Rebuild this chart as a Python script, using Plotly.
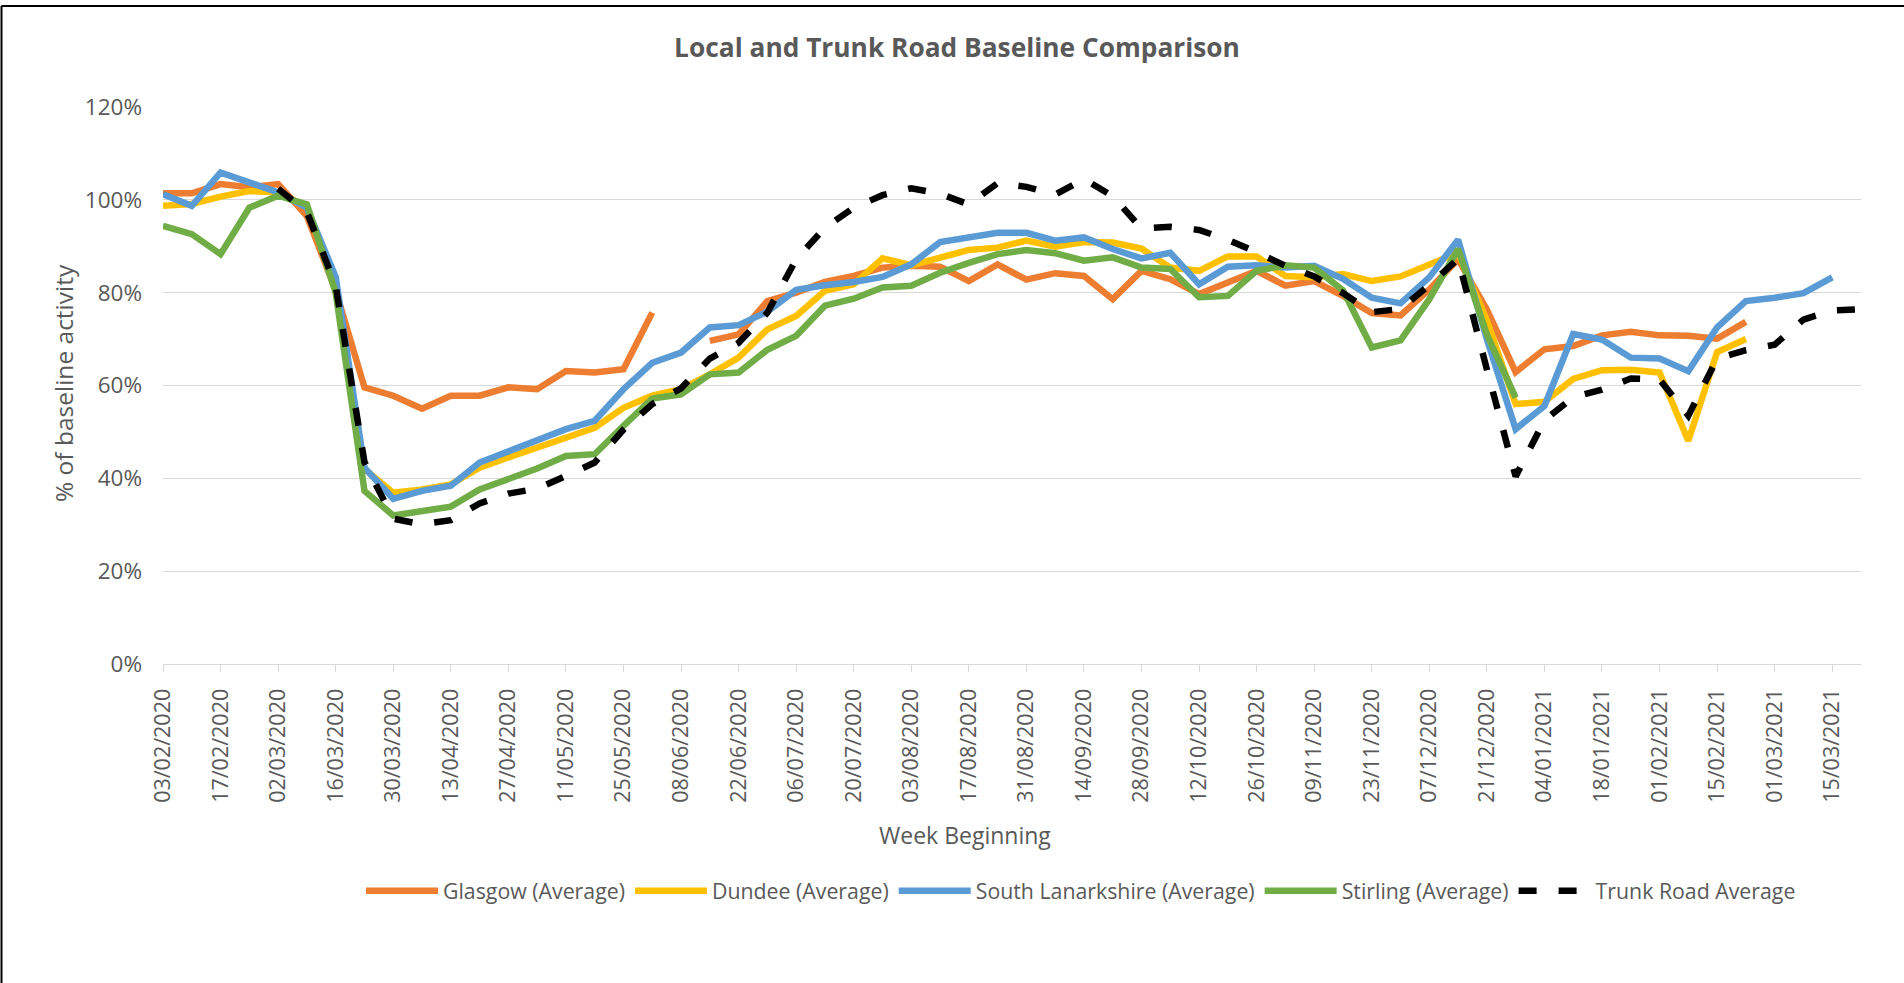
import plotly.graph_objects as go

# ---------------- data ----------------
weeks = [
    "03/02/2020", "10/02/2020", "17/02/2020", "24/02/2020", "02/03/2020", "09/03/2020",
    "16/03/2020", "23/03/2020", "30/03/2020", "06/04/2020", "13/04/2020", "20/04/2020",
    "27/04/2020", "04/05/2020", "11/05/2020", "18/05/2020", "25/05/2020", "01/06/2020",
    "08/06/2020", "15/06/2020", "22/06/2020", "29/06/2020", "06/07/2020", "13/07/2020",
    "20/07/2020", "27/07/2020", "03/08/2020", "10/08/2020", "17/08/2020", "24/08/2020",
    "31/08/2020", "07/09/2020", "14/09/2020", "21/09/2020", "28/09/2020", "05/10/2020",
    "12/10/2020", "19/10/2020", "26/10/2020", "02/11/2020", "09/11/2020", "16/11/2020",
    "23/11/2020", "30/11/2020", "07/12/2020", "14/12/2020", "21/12/2020", "28/12/2020",
    "04/01/2021", "11/01/2021", "18/01/2021", "25/01/2021", "01/02/2021", "08/02/2021",
    "15/02/2021", "22/02/2021", "01/03/2021", "08/03/2021", "15/03/2021", "22/03/2021",
]

tick_labels = weeks[::2]

glasgow = [
    101.4, 101.4, 103.4, 102.7, 103.4, 96.5, 80.5, 59.6, 57.8, 55.0,
    57.8, 57.8, 59.6, 59.2, 63.1, 62.8, 63.5, 75.7, None, 69.6,
    71.0, 78.2, 80.0, 82.3, 83.6, 85.4, 85.8, 85.6, 82.5, 86.1,
    82.8, 84.2, 83.6, 78.6, 84.7, 82.9, 79.7, 82.2, 84.7, 81.5,
    82.5, 79.3, 75.6, 75.1, 80.7, 87.2, 76.4, 62.9, 67.8, 68.5,
    70.8, 71.6, 70.8, 70.7, 70.1, 73.7, None, None, None, None,
]

dundee = [
    98.7, 99.1, 100.7, 101.9, 101.6, 98.5, 82.0, 42.0, 36.9, 37.6,
    38.7, 42.3, 44.5, 46.6, 48.8, 50.9, 55.2, 57.8, 59.2, 62.4,
    66.0, 72.1, 75.0, 80.4, 81.8, 87.4, 85.9, 87.6, 89.2, 89.7,
    91.2, 89.9, 90.9, 90.8, 89.5, 85.4, 84.7, 87.8, 87.8, 83.6,
    83.3, 84.0, 82.5, 83.5, 85.9, 88.6, 74.0, 56.0, 56.5, 61.4,
    63.3, 63.4, 62.8, 48.1, 67.2, 70.0, None, None, None, None,
]

south_lanarkshire = [
    101.2, 98.7, 105.9, 103.7, 101.6, 98.3, 83.4, 42.3, 35.6, 37.3,
    38.4, 43.4, 45.7, 48.1, 50.6, 52.4, 59.2, 64.9, 67.1, 72.5,
    73.0, 75.9, 80.6, 81.6, 82.3, 83.4, 86.1, 90.9, 91.8, 92.9,
    92.9, 91.2, 91.9, 89.4, 87.4, 88.6, 81.8, 85.6, 85.9, 85.4,
    85.8, 83.0, 78.9, 77.7, 83.3, 91.4, 70.0, 50.6, 55.6, 71.1,
    69.9, 66.0, 65.8, 63.1, 72.5, 78.2, 78.9, 79.9, 83.3, None,
]

stirling = [
    94.4, 92.6, 88.3, 98.3, 100.9, 99.0, 80.0, 37.3, 32.0, 32.8,
    33.9, 37.6, 39.9, 42.1, 44.8, 45.2, 51.3, 57.2, 58.1, 62.4,
    62.8, 67.7, 70.7, 77.2, 78.7, 81.1, 81.5, 84.3, 86.4, 88.3,
    89.2, 88.5, 86.9, 87.6, 85.4, 85.1, 79.0, 79.3, 84.7, 85.9,
    85.4, 80.5, 68.2, 69.7, 78.6, 89.4, 71.0, 57.4, None, None,
    None, None, None, None, None, None, None, None, None, None,
]

trunk_road = [
    None, None, None, None, 102.4, 97.4, 81.5, 43.5, 31.3, 30.1,
    31.0, 34.6, 36.7, 37.8, 40.5, 43.4, 50.5, 56.0, 59.4, 65.8,
    69.2, 75.7, 87.2, 94.0, 98.3, 101.0, 102.5, 101.3, 99.0, 103.6,
    102.8, 101.1, 104.5, 100.8, 93.8, 94.2, 93.5, 91.4, 88.7, 85.8,
    83.5, 79.9, 75.8, 76.5, 81.6, 87.3, 63.5, 40.4, 52.5, 57.5,
    59.1, 61.5, 61.3, 53.5, 65.8, 67.6, 68.8, 74.2, 76.2, 76.4,
]

series_names = [
    "Glasgow (Average)",
    "Dundee (Average)",
    "South Lanarkshire (Average)",
    "Stirling (Average)",
    "Trunk Road Average",
]
series_values = [glasgow, dundee, south_lanarkshire, stirling, trunk_road]
series_colors = ["#ED7D31", "#FFC000", "#5B9BD5", "#70AD47", "#000000"]
series_dash = ["solid", "solid", "solid", "solid", "18px,22px"]

# ---------------- layout geometry (pixels) ----------------
W, H = 1904, 983
ML, MR, MT, MB = 163, 43, 107, 319
PW = W - ML - MR
PH = H - MT - MB


def px_x(px):
    return (px - ML) / PW


def px_y(py):
    return (H - MB - py) / PH


FONT = "Open Sans"
GREY = "#595959"
GRID = "#D9D9D9"

fig = go.Figure()
for name, vals, col, dash in zip(series_names, series_values, series_colors, series_dash):
    fig.add_trace(go.Scatter(
        x=weeks, y=vals, name=name, mode="lines",
        line=dict(color=col, width=6.5, dash=dash),
        connectgaps=False,
    ))

fig.update_layout(
    width=W, height=H,
    paper_bgcolor="white", plot_bgcolor="white",
    margin=dict(l=ML, r=MR, t=MT, b=MB, autoexpand=False),
    font=dict(family=FONT, color=GREY),
    title=dict(
        text="Local and Trunk Road Baseline Comparison",
        font=dict(family=FONT, size=26.3, color=GREY, weight=700),
        x=957 / W, xref="container", xanchor="center",
        y=1 - 48 / H, yref="container", yanchor="middle",
    ),
    showlegend=True,
    legend=dict(
        orientation="h",
        x=px_x(361), xanchor="left",
        y=px_y(891), yanchor="middle",
        font=dict(family=FONT, size=21.3, color=GREY),
        itemwidth=72,
        bgcolor="rgba(0,0,0,0)",
        traceorder="normal",
    ),
)

fig.update_xaxes(
    type="category",
    range=[0, len(weeks) - 1],
    showgrid=False,
    showline=True, linecolor=GRID, linewidth=1.3,
    ticks="outside", ticklen=7, tickcolor=GRID, tickwidth=1.3,
    tickmode="array", tickvals=tick_labels, ticktext=tick_labels,
    tickangle=-90,
    tickfont=dict(family=FONT, size=21.5, color=GREY),
    ticklabelstandoff=8,
    zeroline=False,
)

fig.update_yaxes(
    range=[0, 120],
    dtick=20, tick0=0,
    ticksuffix="%",
    showgrid=True, gridcolor=GRID, gridwidth=1.3,
    showline=False, zeroline=False,
    ticks="",
    tickfont=dict(family=FONT, size=22.5, color=GREY),
    ticklabelstandoff=20,
)

# axis titles
fig.add_annotation(
    text="Week Beginning", xref="paper", yref="paper",
    x=px_x(965), y=px_y(835), xanchor="center", yanchor="middle",
    showarrow=False, font=dict(family=FONT, size=23, color=GREY),
)
fig.add_annotation(
    text="% of baseline activity", xref="paper", yref="paper",
    x=px_x(63), y=px_y(383), xanchor="center", yanchor="middle",
    textangle=-90,
    showarrow=False, font=dict(family=FONT, size=24.5, color=GREY),
)

# chart border (visible top and left edges of the chart frame)
fig.add_shape(type="line", xref="paper", yref="paper",
              x0=px_x(1.5), x1=px_x(W + 5), y0=px_y(6), y1=px_y(6),
              line=dict(color="#000000", width=2))
fig.add_shape(type="line", xref="paper", yref="paper",
              x0=px_x(1.5), x1=px_x(1.5), y0=px_y(6), y1=px_y(H + 5),
              line=dict(color="#000000", width=2))

# the page's default 8px body margin would shift the whole figure
fig.write_html(
    "out.html",
    config={"displayModeBar": False},
    post_script="document.body.style.margin='0';document.body.style.overflow='hidden';",
)
